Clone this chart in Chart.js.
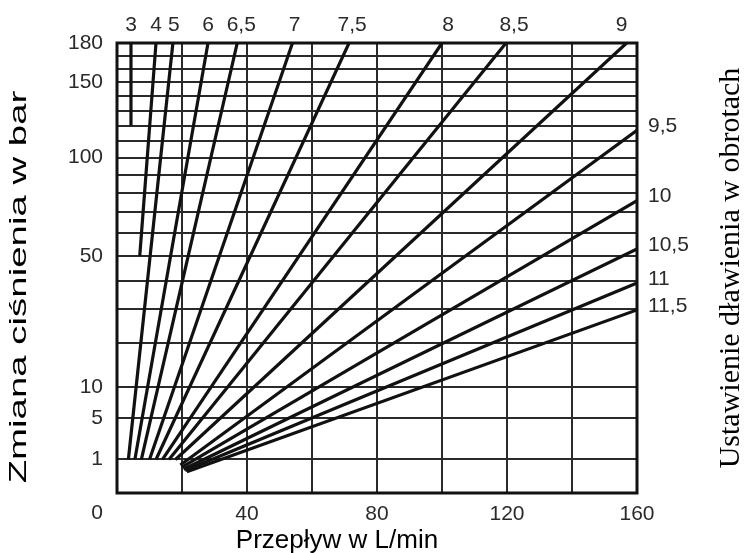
<!DOCTYPE html>
<html>
<head>
<meta charset="utf-8">
<script src="https://cdn.jsdelivr.net/npm/chart.js@4/dist/chart.umd.min.js"></script>
<style>
html, body { margin: 0; padding: 0; background: #fff; }
</style>
</head>
<body>
<canvas id="chart" width="744" height="553"></canvas>
<script>
// throttle setting (turns) for each line
var settings = ['3', '4', '5', '6', '6,5', '7', '7,5', '8', '8,5', '9', '9,5', '10', '10,5', '11', '11,5'];
// each line runs from (flowStart, pressStart) to (flowEnd, pressEnd)
var flowStart = [4.3, 7, 3.5, 5.5, 7.5, 10, 12, 14, 16, 18, 19.5, 20, 20.5, 21, 21.5];
var pressStart = [120, 50, 1, 1, 1, 1, 1, 1, 1, 1, 0.7, 0.6, 0.5, 0.45, 0.4];
var flowEnd = [4.3, 12, 17.2, 28, 37, 54, 71.4, 100, 119.7, 156.8, 160, 160, 160, 160, 160];
var pressEnd = [180, 180, 180, 180, 180, 180, 180, 180, 180, 180, 117, 76, 52.9, 39.2, 29.8];

var flowGrid = [0, 20, 40, 60, 80, 100, 120, 140, 160];
var flowLabels = [40, 80, 120, 160];
var pressGrid = [0, 1, 5, 10, 20, 30, 40, 50, 60, 70, 80, 90, 100, 110, 120, 130, 140, 150, 160, 170, 180];
var pressLabels = [1, 5, 10, 50, 100, 150, 180];

// small horizontal nudges for the labels above the plot
var topNudge = [0, 0, 1, 0, 4, 2, 3, 6, 8, -5];

var tickFont = '"Liberation Sans", Arial, sans-serif';

// pressure axis is drawn on a square-root scale
var datasets = settings.map(function(s, i) {
    return {
        label: s,
        data: [
            {x: flowStart[i], y: Math.sqrt(pressStart[i])},
            {x: flowEnd[i], y: Math.sqrt(pressEnd[i])}
        ],
        showLine: true,
        borderColor: '#111',
        borderWidth: 3.2,
        pointRadius: 0,
        fill: false
    };
});

var textPlugin = {
    id: 'texts',
    beforeDatasetsDraw: function(chart) {
        var a = chart.chartArea;
        var ctx = chart.ctx;
        ctx.save();
        ctx.strokeStyle = '#111';
        ctx.lineWidth = 3;
        ctx.strokeRect(a.left, a.top, a.right - a.left, a.bottom - a.top);
        ctx.restore();
    },
    afterDraw: function(chart) {
        var ctx = chart.ctx;
        var xs = chart.scales.x, ys = chart.scales.y;
        ctx.save();
        ctx.fillStyle = '#2a2a2a';
        ctx.font = '21px ' + tickFont;
        ctx.textBaseline = 'middle';
        ctx.textAlign = 'center';
        ctx.fillText('0', 97, 513);

        settings.forEach(function(s, i) {
            if (pressEnd[i] >= 180) {
                ctx.textAlign = 'center';
                ctx.fillText(s, xs.getPixelForValue(flowEnd[i]) + topNudge[i], 25);
            } else {
                ctx.textAlign = 'left';
                ctx.fillText(s, 648, ys.getPixelForValue(Math.sqrt(pressEnd[i])) - 4);
            }
        });

        ctx.fillStyle = '#000';
        ctx.font = '26px "Liberation Sans", Arial, sans-serif';
        ctx.textAlign = 'center';
        ctx.fillText('Przepływ w L/min', 337, 541);

        // the left title is stretched along its length in the original
        ctx.save();
        ctx.translate(19, 287);
        ctx.rotate(-Math.PI / 2);
        ctx.scale(1.6, 1);
        ctx.font = '24px "Liberation Sans", Arial, sans-serif';
        ctx.fillText('Zmiana ciśnienia w bar', 0, 0);
        ctx.restore();

        ctx.save();
        ctx.translate(731, 268);
        ctx.rotate(-Math.PI / 2);
        ctx.font = '30px "Liberation Serif", "Times New Roman", serif';
        ctx.fillText('Ustawienie dławienia w obrotach', 0, 0);
        ctx.restore();
        ctx.restore();
    }
};

new Chart(document.getElementById('chart').getContext('2d'), {
    type: 'scatter',
    data: { datasets: datasets },
    options: {
        responsive: false,
        animation: false,
        layout: { padding: { left: 0, top: 43, right: 107, bottom: 0 } },
        plugins: { legend: { display: false }, tooltip: { enabled: false } },
        scales: {
            x: {
                type: 'linear',
                min: 0,
                max: 160,
                afterBuildTicks: function(s) { s.ticks = flowGrid.map(function(v) { return {value: v}; }); },
                afterFit: function(s) { s.height = 60; },
                grid: { color: '#2a2a2a', lineWidth: 2, drawTicks: false },
                border: { display: false },
                ticks: {
                    autoSkip: false,
                    maxRotation: 0,
                    padding: 9,
                    color: '#2a2a2a',
                    font: { family: tickFont, size: 21 },
                    callback: function(v) { return flowLabels.indexOf(v) >= 0 ? String(v) : ''; }
                }
            },
            y: {
                type: 'linear',
                min: 0,
                max: Math.sqrt(180),
                afterBuildTicks: function(s) { s.ticks = pressGrid.map(function(v) { return {value: Math.sqrt(v)}; }); },
                afterFit: function(s) { s.width = 117; },
                grid: { color: '#2a2a2a', lineWidth: 2, drawTicks: false },
                border: { display: false },
                ticks: {
                    autoSkip: false,
                    padding: 14,
                    color: '#2a2a2a',
                    font: { family: tickFont, size: 21 },
                    callback: function(v) {
                        var p = Math.round(v * v);
                        return pressLabels.indexOf(p) >= 0 ? String(p) : '';
                    }
                }
            }
        }
    },
    plugins: [textPlugin]
});
</script>
</body>
</html>
